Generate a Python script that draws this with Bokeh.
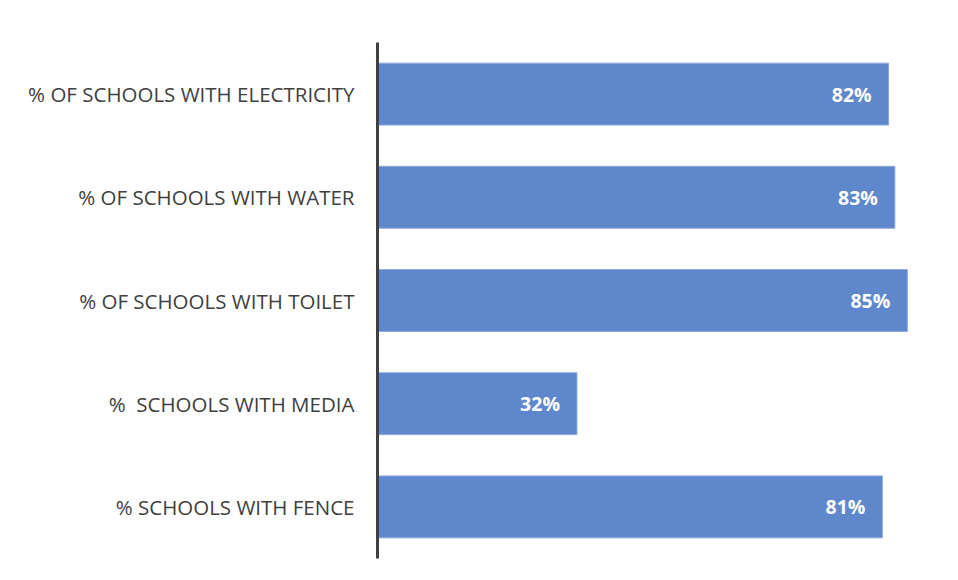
from bokeh.plotting import figure
from bokeh.models import FactorRange, Range1d, ColumnDataSource
from bokeh.core.properties import value
from bokeh.embed import file_html
from bokeh.resources import INLINE

categories = ["% OF SCHOOLS WITH ELECTRICITY", "% OF SCHOOLS WITH WATER",
              "% OF SCHOOLS WITH TOILET", "%\u00a0 SCHOOLS WITH MEDIA",
              "% SCHOOLS WITH FENCE"]
values = [82, 83, 85, 32, 81]
labels = ["82%", "83%", "85%", "32%", "81%"]

src = ColumnDataSource(dict(cat=categories, val=values, lab=labels))

p = figure(width=958, height=580, output_backend="svg", toolbar_location=None,
           y_range=FactorRange(factors=list(reversed(categories)), range_padding=0),
           x_range=Range1d(0, 90),
           min_border_left=377, min_border_right=20, min_border_top=42, min_border_bottom=22)
p.outline_line_color = None
p.xgrid.visible = False
p.ygrid.visible = False
p.xaxis.visible = False

p.hbar(y="cat", right="val", left=0, height=0.6, source=src,
       fill_color="#5F87CC", line_color="#8FAADC", line_width=1)
p.text(x="val", y="cat", text="lab", source=src, x_offset=-17,
       text_align="right", text_baseline="middle", text_color="white",
       text_font=value("Open Sans"), text_font_style="bold", text_font_size="19.5px")

ax = p.yaxis[0]
ax.axis_line_color = "#404040"
ax.axis_line_width = 3
ax.major_tick_line_color = None
ax.minor_tick_line_color = None
ax.major_label_standoff = 17
ax.major_label_text_font = "Open Sans"
ax.major_label_text_font_size = "20.5px"
ax.major_label_text_color = "#404040"

open("out.html", "w").write(file_html(p, INLINE))
